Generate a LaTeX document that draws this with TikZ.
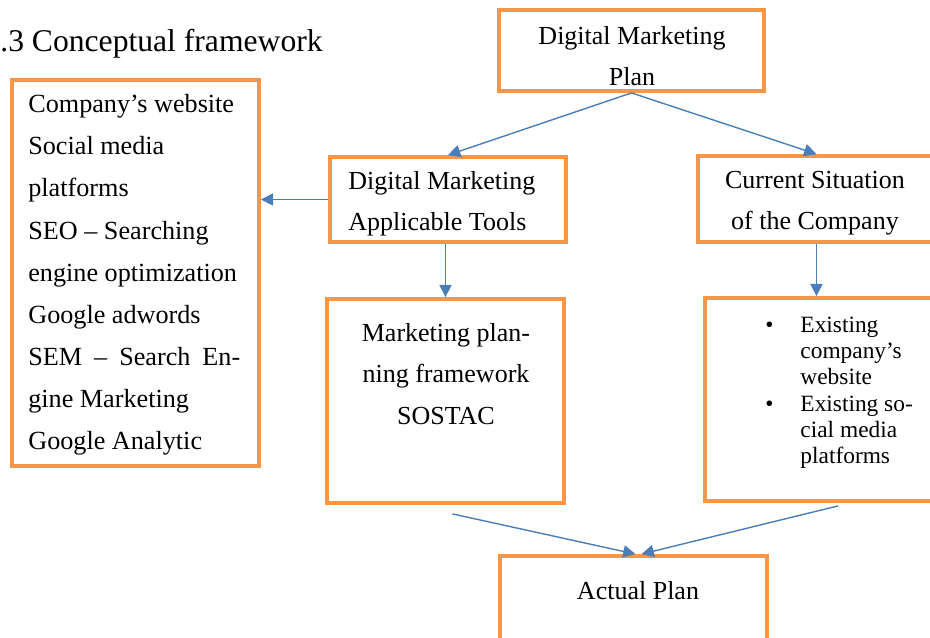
\documentclass[tikz,border=0pt]{standalone}
\usepackage{fontspec}
\setmainfont{Liberation Serif}
\usetikzlibrary{arrows.meta}
\definecolor{boxorange}{RGB}{247,150,70}
\definecolor{linkblue}{RGB}{74,126,187}
\begin{document}
\begin{tikzpicture}[x=0.02cm, y=-0.02cm,
    box/.style={draw=boxorange, line width=2.2pt, inner sep=0pt},
    words/.style={font=\fontsize{14.8}{23.6}\selectfont, inner sep=0pt},
    link/.style={draw=linkblue, line width=0.8pt, -{Triangle[length=7pt, width=7pt]}}]

        \useasboundingbox (0,0) rectangle (930,637);

        \node[anchor=base west, inner sep=0pt, font=\fontsize{18}{20}\selectfont] (title) at (0,51) {.3 Conceptual framework};

        % boxes
        \node[box, minimum width=5.30cm, minimum height=1.62cm] (plan) at (631.5,50.5) {};
        \node[box, minimum width=4.94cm, minimum height=7.72cm] (toolset) at (135.5,273) {};
        \node[box, minimum width=4.72cm, minimum height=1.70cm] (tools) at (448,199.5) {};
        \node[box, minimum width=4.74cm, minimum height=1.72cm] (current) at (816.5,199) {};
        \node[box, minimum width=4.74cm, minimum height=4.08cm] (sostac) at (445.5,401) {};
        \node[box, minimum width=4.60cm, minimum height=4.06cm] (existing) at (820,399.5) {};
        \node[box, minimum width=5.34cm, minimum height=1.88cm] (actual) at (633.5,603) {};

        % texts
        \node[words, align=center] (plantext) at (632,56) {Digital Marketing\\Plan};

        \node[words, align=left, anchor=west] (toolstext) at (348,204) {Digital Marketing\\Applicable Tools};

        \node[words, align=center] (currenttext) at (815,203) {Current Situation\\of the Company};

        \node[words, anchor=north west, align=left, font=\fontsize{14.9}{24}\selectfont] (toolsetlist) at (28,94) {Company’s website\\Social media\\platforms\\SEO -- Searching\\engine optimization\\Google adwords\\\makebox[4.24cm][s]{SEM -- Search En-}\\gine Marketing\\Google Analytic};

        \node[words, align=center] (sostactext) at (446,374) {Marketing plan-\\ning framework\\SOSTAC};

        \node[inner sep=0pt, anchor=base west, font=\fontsize{13.3}{15}\selectfont] (existingtext) at (765,332) {\begin{tabular}[t]{@{}p{20pt}@{}l@{}}
            \textbullet & Existing\\
            & company’s\\
            & website\\
            \textbullet & Existing so-\\
            & cial media\\
            & platforms
        \end{tabular}};

        \node[words] (actualtext) at (638,591) {Actual Plan};

        % arrows
        \draw[link] (plan.south) -- (tools.north);
        \draw[link] (plan.south) -- (current.north);
        \draw[link] (tools.west) -- (tools.west -| toolset.east);
        \draw[link] (tools.south -| sostac.north) -- (sostac.north);
        \draw[link] (current.south) -- (current.south |- existing.north);
        \draw[link] ([shift={(7,9)}]sostac.south) -- ([xshift=0.04cm]actual.north);
        \draw[link] ([shift={(18,3)}]existing.south) -- ([xshift=0.16cm]actual.north);
\end{tikzpicture}
\end{document}
